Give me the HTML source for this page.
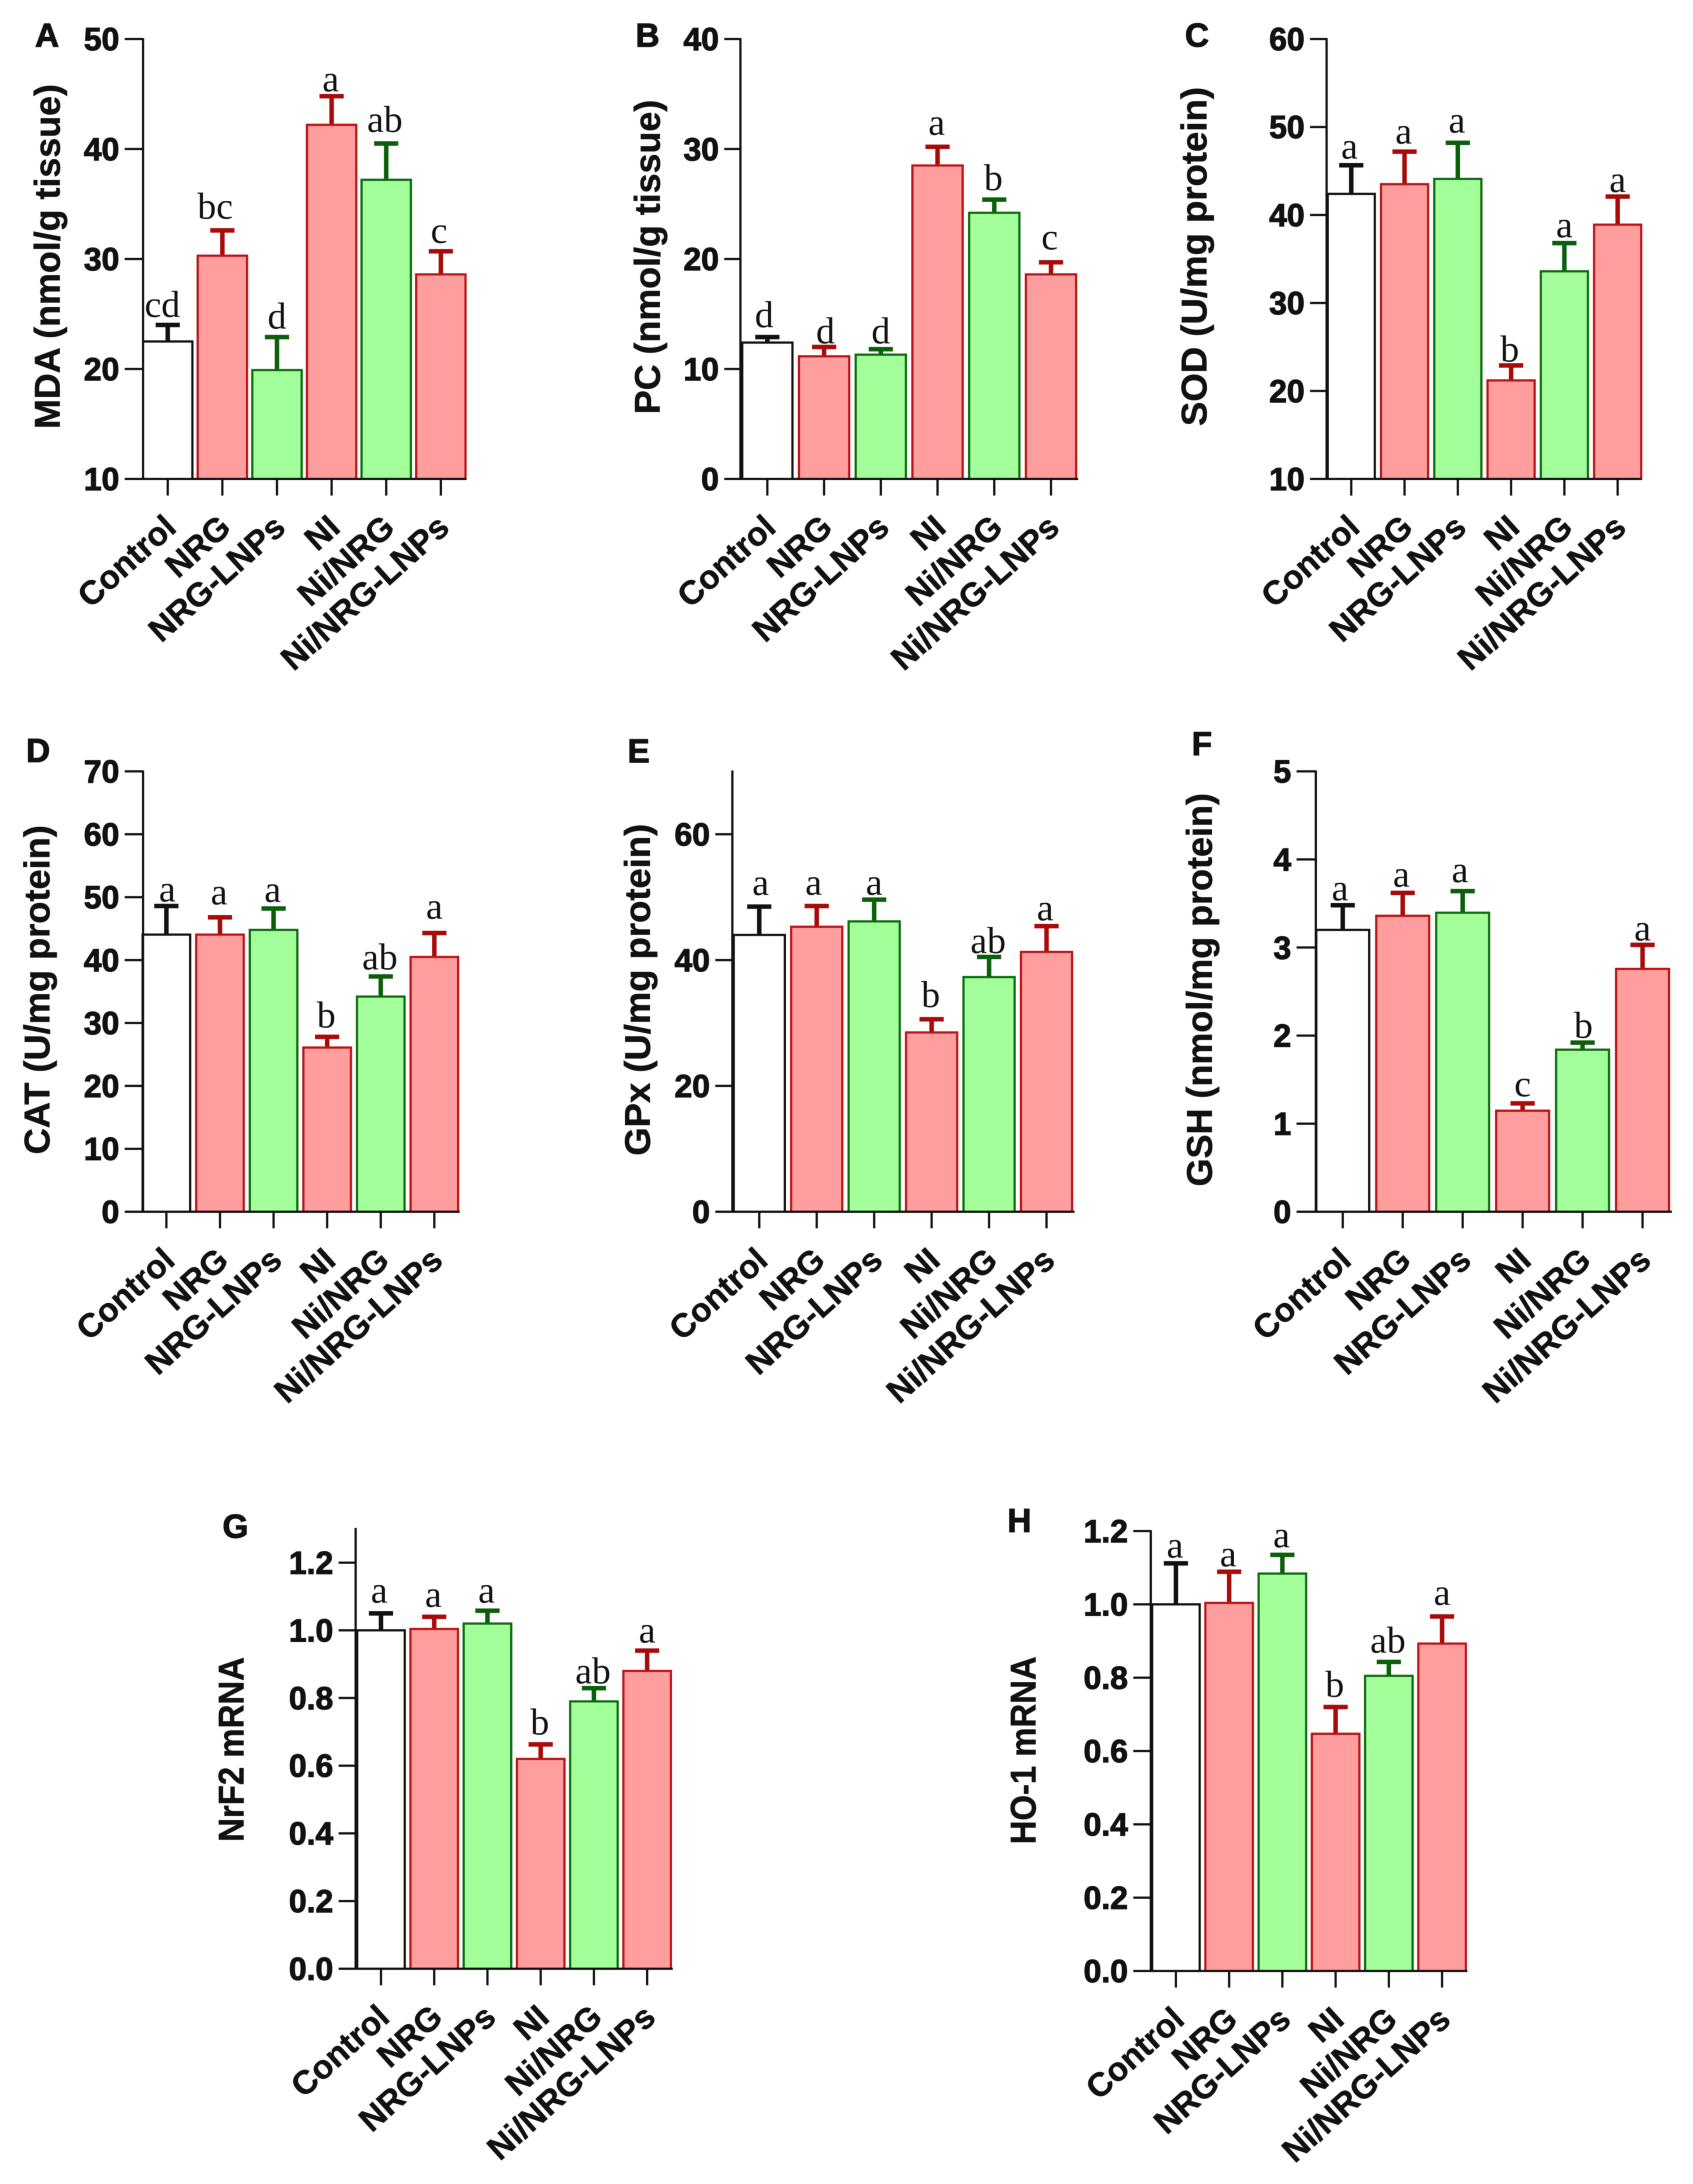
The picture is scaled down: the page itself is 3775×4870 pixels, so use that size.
<!DOCTYPE html>
<html lang="en">
<head>
<meta charset="utf-8">
<title>Oxidative stress markers and mRNA expression bar charts</title>
<style>
html,body{margin:0;padding:0;background:#fff;}
svg{display:block;filter:blur(0.8px);}
.title{font-family:"Liberation Sans",sans-serif;font-weight:700;font-size:80px;fill:#111;stroke:#111;stroke-width:1px;text-anchor:middle;}
.panel-letter{font-family:"Liberation Sans",sans-serif;font-weight:700;font-size:74px;fill:#111;stroke:#111;stroke-width:2px;text-anchor:middle;}
.y-tick-label{font-family:"Liberation Sans",sans-serif;font-weight:700;font-size:71px;fill:#111;stroke:#111;stroke-width:2px;text-anchor:end;}
.x-tick-label{font-family:"Liberation Sans",sans-serif;font-weight:700;font-size:74px;fill:#111;stroke:#111;stroke-width:1px;text-anchor:end;}
.sig-letter{font-family:"Liberation Serif",serif;font-size:84px;fill:#111;text-anchor:middle;}
</style>
</head>
<body>
<svg id="figure" xmlns="http://www.w3.org/2000/svg" width="3775" height="4870" viewBox="0 0 3775 4870">
<rect x="0" y="0" width="3775" height="4870" fill="#ffffff"/>

<g id="panel-a">
<text class="panel-letter" x="105" y="104">A</text>
<text class="title" transform="translate(133,572) rotate(-90)" textLength="769" lengthAdjust="spacingAndGlyphs">MDA (nmol/g tissue)</text>
</g>
<g id="panel-b">
<text class="panel-letter" x="1444" y="104">B</text>
<text class="title" transform="translate(1471,573) rotate(-90)" textLength="701" lengthAdjust="spacingAndGlyphs">PC (nmol/g tissue)</text>
</g>
<g id="panel-c">
<text class="panel-letter" x="2669" y="104">C</text>
<text class="title" transform="translate(2690,572) rotate(-90)" textLength="756" lengthAdjust="spacingAndGlyphs">SOD (U/mg protein)</text>
</g>
<g id="panel-d">
<text class="panel-letter" x="85" y="1699">D</text>
<text class="title" transform="translate(110,2207) rotate(-90)" textLength="734" lengthAdjust="spacingAndGlyphs">CAT (U/mg protein)</text>
</g>
<g id="panel-e">
<text class="panel-letter" x="1424" y="1700">E</text>
<text class="title" transform="translate(1449,2207) rotate(-90)" textLength="740" lengthAdjust="spacingAndGlyphs">GPx (U/mg protein)</text>
</g>
<g id="panel-f">
<text class="panel-letter" x="2680" y="1684">F</text>
<text class="title" transform="translate(2702,2207) rotate(-90)" textLength="877" lengthAdjust="spacingAndGlyphs">GSH (nmol/mg protein)</text>
</g>
<g id="panel-g">
<text class="panel-letter" x="525" y="3429">G</text>
<text class="title" transform="translate(543,3901) rotate(-90)" textLength="412" lengthAdjust="spacingAndGlyphs">NrF2 mRNA</text>
</g>
<g id="panel-h">
<text class="panel-letter" x="2273" y="3416">H</text>
<text class="title" transform="translate(2309,3903) rotate(-90)" textLength="419" lengthAdjust="spacingAndGlyphs">HO-1 mRNA</text>
</g>
</svg>

<script>
// ---- Data ----
const categories = ['Control', 'NRG', 'NRG-LNPs', 'NI', 'Ni/NRG', 'Ni/NRG-LNPs'];
const groupColors = ['white', 'red', 'green', 'red', 'green', 'red'];

const meansA = [22.5, 30.3, 19.9, 42.2, 37.2, 28.6];
const errorsA = [1.5, 2.3, 3.0, 2.6, 3.3, 2.1];
const lettersA = ['cd', 'bc', 'd', 'a', 'ab', 'c'];
const ticksA = [10, 20, 30, 40, 50];

const meansB = [12.4, 11.15, 11.3, 28.5, 24.2, 18.6];
const errorsB = [0.5, 0.85, 0.5, 1.7, 1.2, 1.1];
const lettersB = ['d', 'd', 'd', 'a', 'b', 'c'];
const ticksB = [0, 10, 20, 30, 40];

const meansC = [42.4, 43.5, 44.1, 21.2, 33.6, 38.9];
const errorsC = [3.25, 3.7, 4.1, 1.7, 3.2, 3.2];
const lettersC = ['a', 'a', 'a', 'b', 'a', 'a'];
const ticksC = [10, 20, 30, 40, 50, 60];

const meansD = [44.05, 44.05, 44.8, 26.1, 34.2, 40.5];
const errorsD = [4.55, 2.75, 3.4, 1.7, 3.2, 3.8];
const lettersD = ['a', 'a', 'a', 'b', 'ab', 'a'];
const ticksD = [0, 10, 20, 30, 40, 50, 60, 70];

const meansE = [44.0, 45.3, 46.15, 28.5, 37.3, 41.3];
const errorsE = [4.5, 3.3, 3.45, 2.1, 3.2, 4.1];
const lettersE = ['a', 'a', 'a', 'b', 'ab', 'a'];
const ticksE = [0, 20, 40, 60];

const meansF = [3.2, 3.36, 3.395, 1.147, 1.84, 2.757];
const errorsF = [0.28, 0.26, 0.245, 0.083, 0.08, 0.273];
const lettersF = ['a', 'a', 'a', 'c', 'b', 'a'];
const ticksF = [0, 1, 2, 3, 4, 5];

const meansG = [1.0, 1.004, 1.02, 0.62, 0.79, 0.88];
const errorsG = [0.05, 0.036, 0.038, 0.043, 0.039, 0.06];
const lettersG = ['a', 'a', 'a', 'b', 'ab', 'a'];
const ticksG = ['0.0', '0.2', '0.4', '0.6', '0.8', '1.0', '1.2'];

const meansH = [1.0, 1.004, 1.084, 0.647, 0.805, 0.893];
const errorsH = [0.112, 0.085, 0.051, 0.073, 0.038, 0.074];
const lettersH = ['a', 'a', 'a', 'b', 'ab', 'a'];
const ticksH = ['0.0', '0.2', '0.4', '0.6', '0.8', '1.0', '1.2'];

// ---- Rendering ----
const SVG_NS = 'http://www.w3.org/2000/svg';
const PALETTE = {
  white: { fill: '#ffffff', stroke: '#111111', error: '#111111' },
  red: { fill: '#ff9e9e', stroke: '#bb1414', error: '#a80a0a' },
  green: { fill: '#a2ff9a', stroke: '#0f6b0f', error: '#0b5f0b' }
};

function make(parent, tag, attrs) {
  const node = document.createElementNS(SVG_NS, tag);
  Object.keys(attrs).forEach(function (key) { node.setAttribute(key, attrs[key]); });
  parent.appendChild(node);
  return node;
}

function drawPanel(panelId, frame, means, errors, letters, ticks) {
  const panel = document.getElementById(panelId);
  const y = function (v) {
    return frame.bottom - (v - frame.min) / (frame.max - frame.min) * (frame.bottom - frame.top);
  };
  const x = function (i) { return frame.first + i * frame.step; };

  means.forEach(function (mean, i) {
    const colors = PALETTE[groupColors[i]];
    const cx = x(i);
    const top = y(mean);
    const errTop = y(mean + errors[i]);

    const stem = make(panel, 'line', { x1: cx, x2: cx, y1: top, y2: errTop, stroke: colors.error, 'stroke-width': 10 });
    
    

    const cap = make(panel, 'line', { x1: cx - 27, x2: cx + 27, y1: errTop, y2: errTop, stroke: colors.error, 'stroke-width': 10 });
    
    

    const bar = make(panel, 'rect', { x: cx - frame.barWidth / 2, y: top, width: frame.barWidth, height: frame.bottom - top, fill: colors.fill, stroke: colors.stroke, 'stroke-width': 5 });
    
    

    const letter = make(panel, 'text', { class: 'sig-letter', x: cx + (frame.letterDx ? frame.letterDx[i] : 0), y: errTop - frame.letterGap[i] });
    
    
    letter.textContent = letters[i];

    const tick = make(panel, 'line', { x1: cx, x2: cx, y1: frame.bottom, y2: frame.bottom + 37, stroke: '#111111', 'stroke-width': 5 });
    
    

    const anchorX = cx + 23;
    const anchorY = frame.bottom + 114;
    const label = make(panel, 'text', { class: 'x-tick-label', x: anchorX, y: anchorY, transform: 'rotate(-42 ' + anchorX + ' ' + anchorY + ')' });
    
    
    label.textContent = categories[i];
  });

  const yAxis = make(panel, 'line', { x1: frame.axis, x2: frame.axis, y1: frame.top - 2, y2: frame.bottom + 2, stroke: '#111111', 'stroke-width': 5 });
  
  

  const xAxis = make(panel, 'line', { x1: frame.tickLeft, x2: frame.end, y1: frame.bottom, y2: frame.bottom, stroke: '#111111', 'stroke-width': 5 });
  
  

  ticks.forEach(function (value) {
    const ty = y(Number(value));

    const tick = make(panel, 'line', { x1: frame.tickLeft, x2: frame.axis, y1: ty, y2: ty, stroke: '#111111', 'stroke-width': 5 });
    
    

    const label = make(panel, 'text', { class: 'y-tick-label', x: frame.tickLeft - 12, y: ty + 25 });
    
    
    label.textContent = value;
  });
}

drawPanel('panel-a', { axis: 319, tickLeft: 278, first: 374, step: 121.8, barWidth: 110, end: 1040, top: 87, bottom: 1068, min: 10, max: 50, letterGap: [18, 26, 19, 11, 26, 19], letterDx: [-12, -16, 0, -2, -3, -4] }, meansA, errorsA, lettersA, ticksA);
drawPanel('panel-b', { axis: 1651, tickLeft: 1615, first: 1711, step: 126.5, barWidth: 112, end: 2404, top: 87, bottom: 1068, min: 0, max: 40, letterGap: [22, 8, 13, 27, 21, 29], letterDx: [-7, 3, 0, -2, -2, -3] }, meansB, errorsB, lettersB, ticksB);
drawPanel('panel-c', { axis: 2958, tickLeft: 2921, first: 3013, step: 118.8, barWidth: 105, end: 3660, top: 87, bottom: 1068, min: 10, max: 60, letterGap: [15, 18, 23, 9, 13, 10], letterDx: [-4, -2, -2, -3, 0, 0] }, meansC, errorsC, lettersC, ticksC);
drawPanel('panel-d', { axis: 319, tickLeft: 278, first: 371, step: 119.5, barWidth: 106, end: 1025, top: 1720, bottom: 2702, min: 0, max: 70, letterGap: [10, 29, 15, 21, 16, 32], letterDx: [2, -2, -2, -2, -2, 0] }, meansD, errorsD, lettersD, ticksD);
drawPanel('panel-e', { axis: 1633, tickLeft: 1595, first: 1693, step: 128.1, barWidth: 114, end: 2396, top: 1720, bottom: 2702, min: 0, max: 70, letterGap: [26, 25, 11, 27, 9, 13], letterDx: [3, -7, 0, -2, -2, -3] }, meansE, errorsE, lettersE, ticksE);
drawPanel('panel-f', { axis: 2934, tickLeft: 2891, first: 2994, step: 133.7, barWidth: 118, end: 3728, top: 1720, bottom: 2702, min: 0, max: 5, letterGap: [11, 14, 20, 16, 11, 10], letterDx: [-6, -3, -6, 0, 2, 0] }, meansF, errorsF, lettersF, ticksF);
drawPanel('panel-g', { axis: 793, tickLeft: 755, first: 849.5, step: 118.7, barWidth: 106, end: 1500, top: 3409, bottom: 4390, min: 0, max: 1.3, letterGap: [24, 22, 18, 22, 11, 18], letterDx: [-4, -2, -2, -2, -2, 0] }, meansG, errorsG, lettersG, ticksG);
drawPanel('panel-h', { axis: 2566, tickLeft: 2527, first: 2622, step: 118.7, barWidth: 106, end: 3272, top: 3414, bottom: 4395, min: 0, max: 1.2, letterGap: [13, 12, 17, 23, 21, 26], letterDx: [-2, -2, -2, -2, -2, 0] }, meansH, errorsH, lettersH, ticksH);
</script>
</body>
</html>
